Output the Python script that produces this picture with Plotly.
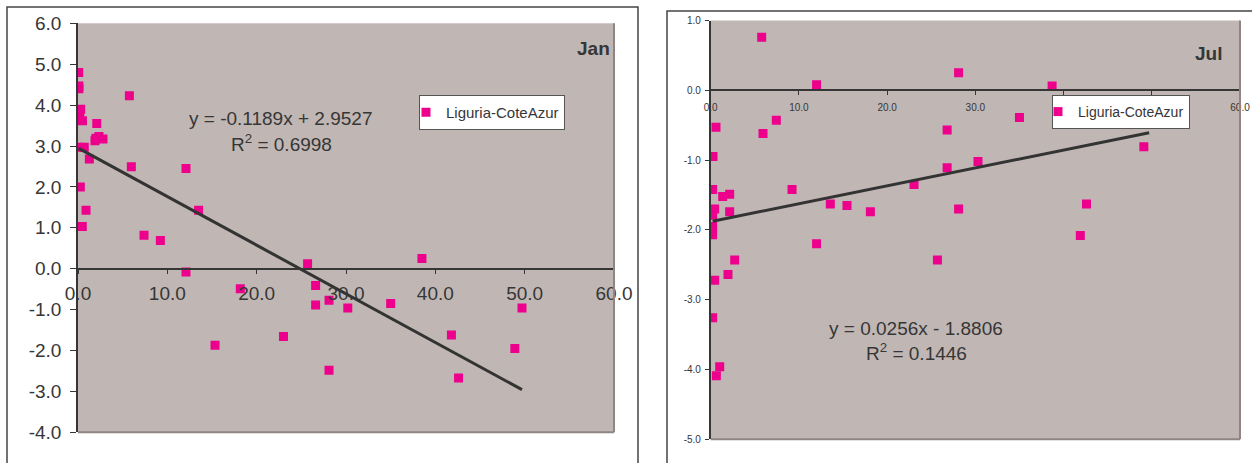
import plotly.graph_objects as go

# ---- data -------------------------------------------------------------
series_name = "Liguria-CoteAzur"

jan_x = [0.08, 0.1, 0.1, 0.3, 0.2, 0.5, 2.1, 2.0, 2.35, 2.8, 1.9, 0.08, 0.7,
         1.27, 0.26, 0.9, 0.48, 5.75, 5.97, 12.09, 13.5, 7.39, 9.22, 12.09,
         15.34, 18.17, 23.0, 25.7, 26.6, 26.6, 28.1, 30.2, 28.1, 35.0, 38.5,
         41.8, 42.6, 48.9, 49.7]
jan_y = [4.80, 4.47, 4.40, 3.90, 3.75, 3.62, 3.55, 3.19, 3.23, 3.17, 3.13,
         2.97, 2.97, 2.68, 2.00, 1.43, 1.03, 4.23, 2.49, 2.45, 1.43, 0.82,
         0.69, -0.08, -1.87, -0.49, -1.66, 0.12, -0.41, -0.89, -0.77, -0.96,
         -2.48, -0.85, 0.25, -1.62, -2.67, -1.95, -0.96]

jul_x = [5.78, 12.0, 28.1, 0.6, 7.44, 5.93, 0.26, 0.22, 1.36, 2.15, 9.22,
         0.45, 0.22, 2.15, 13.56, 15.45, 18.1, 23.05, 26.8, 26.8, 28.1, 0.22,
         38.7, 35.0, 30.3, 49.7, 49.1, 42.6, 41.9, 0.22, 12.0, 2.72, 1.96,
         0.45, 0.22, 1.02, 0.64, 25.7]
jul_y = [0.76, 0.08, 0.25, -0.53, -0.43, -0.62, -0.95, -1.42, -1.52, -1.49,
         -1.42, -1.70, -1.79, -1.74, -1.63, -1.65, -1.74, -1.35, -0.57, -1.11,
         -1.70, -1.95, 0.06, -0.39, -1.02, -0.42, -0.81, -1.63, -2.08, -2.07,
         -2.20, -2.43, -2.64, -2.72, -3.26, -3.96, -4.09, -2.43]

# linear trend coefficients (slope, intercept, R²)
jan_fit = (-0.1189, 2.9527, 0.6998)
jul_fit = (0.0256, -1.8806, 0.1446)

x_ticks = [0, 10, 20, 30, 40, 50, 60]
jan_y_ticks = [6, 5, 4, 3, 2, 1, 0, -1, -2, -3, -4]
jul_y_ticks = [1, 0, -1, -2, -3, -4, -5]

# ---- page geometry ----------------------------------------------------
W, H = 1252, 463
FONT = "Liberation Sans, Arial, sans-serif"
BG = "#C0B7B4"
PINK = "#EC008C"
INK = "#363636"
EDGE = "#8F8583"


def px(x):
    return x / W


def py(y):
    return (H - y) / H


def labels(vals):
    # plain hyphen-minus, one decimal
    return ["%.1f" % v for v in vals]


def trend(fit, xs):
    lo, hi = min(xs), max(xs)
    return [lo, hi], [fit[0] * lo + fit[1], fit[0] * hi + fit[1]]


def eq_text(fit):
    sign = "+" if fit[1] >= 0 else "-"
    return "y = %s%.4fx %s %.4f" % ("" if fit[0] >= 0 else "-", abs(fit[0]),
                                   sign, abs(fit[1]))


# plot-area rectangles in pixels: (left, top, right, bottom)
jan_box = (78, 23.3, 614, 432.3)
jul_box = (710.7, 20.5, 1240, 439.3)
jan_range = (-4, 6)
jul_range = (-5, 1)


def zero_pos(box, yr):
    b, t = py(box[3]), py(box[1])
    return b + (0 - yr[0]) / (yr[1] - yr[0]) * (t - b)


fig = go.Figure()

fig.add_trace(go.Scatter(
    x=jan_x, y=jan_y, mode="markers", name=series_name,
    marker=dict(symbol="square", size=9, color=PINK),
    xaxis="x", yaxis="y", legend="legend"))
tx, ty = trend(jan_fit, jan_x)
fig.add_trace(go.Scatter(x=tx, y=ty, mode="lines", showlegend=False,
                         line=dict(color="#333333", width=3),
                         xaxis="x", yaxis="y"))

fig.add_trace(go.Scatter(
    x=jul_x, y=jul_y, mode="markers", name=series_name,
    marker=dict(symbol="square", size=9, color=PINK),
    xaxis="x2", yaxis="y2", legend="legend2"))
tx, ty = trend(jul_fit, jul_x)
fig.add_trace(go.Scatter(x=tx, y=ty, mode="lines", showlegend=False,
                         line=dict(color="#333333", width=3),
                         xaxis="x2", yaxis="y2"))

axis_common = dict(showgrid=False, zeroline=False, showline=True,
                   linecolor=INK, linewidth=1.5, ticks="outside",
                   tickcolor=INK, automargin=False)

fig.update_layout(
    width=W, height=H,
    margin=dict(l=0, r=0, t=0, b=0, autoexpand=False),
    paper_bgcolor="white",
    plot_bgcolor=BG,
    font=dict(family=FONT, color=INK),
    xaxis=dict(axis_common, domain=[px(jan_box[0]), px(jan_box[2])],
               range=[0, 60], tickvals=x_ticks, ticktext=labels(x_ticks),
               anchor="free", position=zero_pos(jan_box, jan_range),
               ticklen=5, tickfont=dict(size=19), ticklabelstandoff=3),
    yaxis=dict(axis_common, domain=[py(jan_box[3]), py(jan_box[1])],
               range=list(jan_range), tickvals=jan_y_ticks,
               ticktext=labels(jan_y_ticks), anchor="x",
               ticklen=6, tickfont=dict(size=19), ticklabelstandoff=5),
    xaxis2=dict(axis_common, domain=[px(jul_box[0]), px(jul_box[2])],
                range=[0, 60], tickvals=x_ticks, ticktext=labels(x_ticks),
                anchor="free", position=zero_pos(jul_box, jul_range),
                ticklen=4, tickfont=dict(size=10), ticklabelstandoff=4),
    yaxis2=dict(axis_common, domain=[py(jul_box[3]), py(jul_box[1])],
                range=list(jul_range), tickvals=jul_y_ticks,
                ticktext=labels(jul_y_ticks), anchor="x2",
                ticklen=4, tickfont=dict(size=10), ticklabelstandoff=2),
    legend=dict(x=px(419), y=py(95), xanchor="left", yanchor="top",
                bgcolor="white", bordercolor="#555555", borderwidth=1,
                font=dict(size=15, color=INK), itemwidth=30,
                indentation=-14),
    legend2=dict(x=px(1052), y=py(95), xanchor="left", yanchor="top",
                 bgcolor="white", bordercolor="#555555", borderwidth=1,
                 font=dict(size=14, color=INK), itemwidth=30,
                 indentation=-15),
)

# plot-area edges (right and bottom) and outer chart frames
shapes = []
for (l, t, r, b) in (jan_box, jul_box):
    shapes.append(dict(type="line", xref="paper", yref="paper",
                       x0=px(r), x1=px(r), y0=py(b), y1=py(t),
                       line=dict(color=EDGE, width=2)))
    shapes.append(dict(type="line", xref="paper", yref="paper",
                       x0=px(l), x1=px(r), y0=py(b), y1=py(b),
                       line=dict(color=EDGE, width=2)))
shapes.append(dict(type="rect", xref="paper", yref="paper",
                   x0=px(7), x1=px(638), y0=-0.1, y1=py(7),
                   line=dict(color="#444444", width=1.5)))
shapes.append(dict(type="rect", xref="paper", yref="paper",
                   x0=px(667), x1=1.1, y0=-0.1, y1=py(11),
                   line=dict(color="#444444", width=1.5)))
fig.update_layout(shapes=shapes)

annotations = [
    dict(text="<b>Jan</b>", x=px(612), y=py(49), xanchor="right",
         font=dict(size=19)),
    dict(text="<b>Jul</b>", x=px(1224), y=py(53), xanchor="right",
         font=dict(size=19)),
    dict(text=eq_text(jan_fit), x=px(280), y=py(119), font=dict(size=19)),
    dict(text="R<sup>2</sup> = %.4f" % jan_fit[2], x=px(281), y=py(143),
         font=dict(size=19)),
    dict(text=eq_text(jul_fit), x=px(916), y=py(328), font=dict(size=19)),
    dict(text="R<sup>2</sup> = %.4f" % jul_fit[2], x=px(916), y=py(352),
         font=dict(size=19)),
]
for a in annotations:
    a.update(xref="paper", yref="paper", showarrow=False, yanchor="middle")
    a.setdefault("xanchor", "center")
fig.update_layout(annotations=annotations)

fig.write_html("out.html")
